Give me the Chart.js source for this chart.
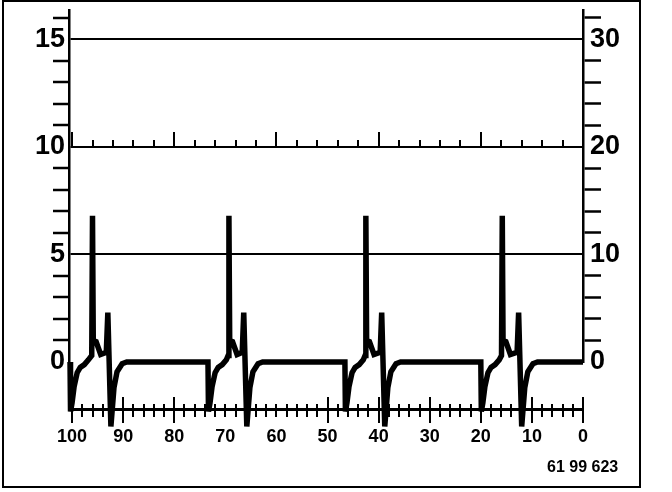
<!DOCTYPE html>
<html>
<head>
<meta charset="utf-8">
<script src="https://cdn.jsdelivr.net/npm/chart.js@4.4.0/dist/chart.umd.min.js"></script>
<style>
  body { margin: 0; background: #fff; }
  #wrap { position: relative; width: 672px; height: 492px; }
  #frame { position: absolute; left: 2px; top: 0; width: 635px; height: 484px; border: 2.5px solid #000; pointer-events: none; }
  #code { position: absolute; left: 547px; top: 458px; font: bold 16px 'Liberation Sans', Arial, sans-serif; color: #000; }
</style>
</head>
<body>
<div id="wrap">
  <canvas id="scopeChart"></canvas>
  <div id="frame"></div>
  <div id="code">61 99 623</div>
</div>
<script>
// trace, x runs 100 -> 0
const traceX = [
  100.4, 100.3, 100.0, 99.6, 99.0, 98.4, 97.6, 96.8, 96.15, 96.0, 95.85, 95.3, 94.4, 93.3, 93.0, 92.4, 91.8, 91.2, 90.2, 89.3,
  73.4, 73.3, 73.0, 72.6, 72.0, 71.4, 70.6, 69.8, 69.45, 69.3, 69.15, 68.6, 67.7, 66.7, 66.4, 65.8, 65.2, 64.6, 63.6, 62.7,
  46.6, 46.5, 46.2, 45.8, 45.2, 44.6, 43.8, 43.0, 42.65, 42.5, 42.35, 41.8, 40.9, 39.7, 39.4, 38.8, 38.2, 37.6, 36.6, 35.7,
  20.0, 19.9, 19.6, 19.2, 18.6, 18.0, 17.2, 16.4, 15.95, 15.8, 15.65, 15.1, 14.2, 12.9, 12.6, 12.0, 11.4, 10.8, 9.8, 8.9,
  0
];
const traceY = [
  0, -2.3, -1.9, -1.15, -0.5, -0.25, -0.12, 0.1, 0.3, 6.8, 1.0, 0.95, 0.35, 0.45, 2.3, -3.0, -1.2, -0.45, -0.08, 0,
  0, -2.3, -1.9, -1.15, -0.5, -0.25, -0.12, 0.1, 0.3, 6.8, 1.0, 0.95, 0.35, 0.45, 2.3, -3.0, -1.2, -0.45, -0.08, 0,
  0, -2.3, -1.9, -1.15, -0.5, -0.25, -0.12, 0.1, 0.3, 6.8, 1.0, 0.95, 0.35, 0.45, 2.3, -3.0, -1.2, -0.45, -0.08, 0,
  0, -2.3, -1.9, -1.15, -0.5, -0.25, -0.12, 0.1, 0.3, 6.8, 1.0, 0.95, 0.35, 0.45, 2.3, -3.0, -1.2, -0.45, -0.08, 0,
  0
];
const leftLabels = [0, 5, 10, 15];
const rightLabels = [0, 10, 20, 30];
const gridValues = [5, 10, 15];
const rulerMajor = [100, 90, 80, 50, 40, 30, 20, 10, 0];

const font = "'Liberation Sans', Arial, sans-serif";
const ink = '#000';
const rulerY = -2.23;

const rulerAxis = (pos, step, len, extra) => Object.assign({
  type: 'linear', axis: 'x', position: pos, min: 0, max: 100.6, reverse: true,
  ticks: { display: false, stepSize: step, includeBounds: false },
  grid: { drawOnChartArea: false, color: ink, tickColor: ink, lineWidth: 2, tickLength: len },
  border: { display: false }
}, extra || {});

const majorOnly = { afterBuildTicks: s => { s.ticks = rulerMajor.map(v => ({ value: v })); } };

new Chart(document.getElementById('scopeChart'), {
  type: 'scatter',
  data: {
    datasets: [{
      data: traceX.map((x, i) => ({ x: x, y: traceY[i] })),
      showLine: true,
      borderColor: ink,
      borderWidth: 5.5,
      pointRadius: 0,
      tension: 0,
      clip: false,
      xAxisID: 'x',
      yAxisID: 'y'
    }]
  },
  options: {
    responsive: true,
    maintainAspectRatio: false,
    animation: false,
    layout: { padding: { left: 0, right: 0, top: 10, bottom: 130 } },
    plugins: { legend: { display: false }, tooltip: { enabled: false } },
    scales: {
      x: { type: 'linear', min: 0, max: 100.6, reverse: true, display: false },
      y: {
        position: 'left', min: 0, max: 16.37,
        ticks: {
          stepSize: 1, includeBounds: false, autoSkip: false, padding: -12, color: ink,
          font: { family: font, size: 27, weight: 'bold' },
          callback: v => leftLabels.includes(v) ? String(v) : ''
        },
        grid: {
          color: c => gridValues.includes(c.tick.value) ? ink : 'rgba(0,0,0,0)',
          lineWidth: 2,
          tickColor: c => leftLabels.includes(c.tick.value) ? 'rgba(0,0,0,0)' : ink,
          tickWidth: 2.5,
          tickLength: 16
        },
        border: { color: ink, width: 2.5 },
        afterFit: s => { s.width = 69; s.paddingTop = 0; s.paddingBottom = 0; }
      },
      y2: {
        position: 'right', min: 0, max: 32.74,
        ticks: {
          stepSize: 2, includeBounds: false, autoSkip: false, padding: -11, color: ink,
          font: { family: font, size: 27, weight: 'bold' },
          callback: v => rightLabels.includes(v) ? String(v) : ''
        },
        grid: {
          drawOnChartArea: false,
          color: ink,
          tickColor: c => rightLabels.includes(c.tick.value) ? 'rgba(0,0,0,0)' : ink,
          tickWidth: 2.5,
          tickLength: 18
        },
        border: { color: ink, width: 2.5 },
        afterFit: s => { s.width = 89; s.paddingTop = 0; s.paddingBottom = 0; }
      },
      // small ruler on the 10 line
      r10a: rulerAxis({ y: 10 }, 4, -7),
      r10b: rulerAxis({ y: 10 }, 20, -15),
      // bottom ruler
      rbLine: rulerAxis({ y: rulerY }, 2, 6, { border: { display: true, color: ink, width: 3 } }),
      rbUp: rulerAxis({ y: rulerY }, 2, -6),
      rbMajDown: rulerAxis({ y: rulerY }, 10, 13, majorOnly),
      rbMajUp: rulerAxis({ y: rulerY }, 10, -13, majorOnly),
      rbLabels: {
        type: 'linear', axis: 'x', position: { y: rulerY }, min: 0, max: 100.6, reverse: true,
        ticks: {
          stepSize: 10, includeBounds: false, autoSkip: false, maxRotation: 0, padding: 16, color: ink,
          font: { family: font, size: 18, weight: 'bold' }
        },
        grid: { display: false, drawTicks: false },
        border: { display: false }
      }
    }
  }
});
</script>
</body>
</html>
